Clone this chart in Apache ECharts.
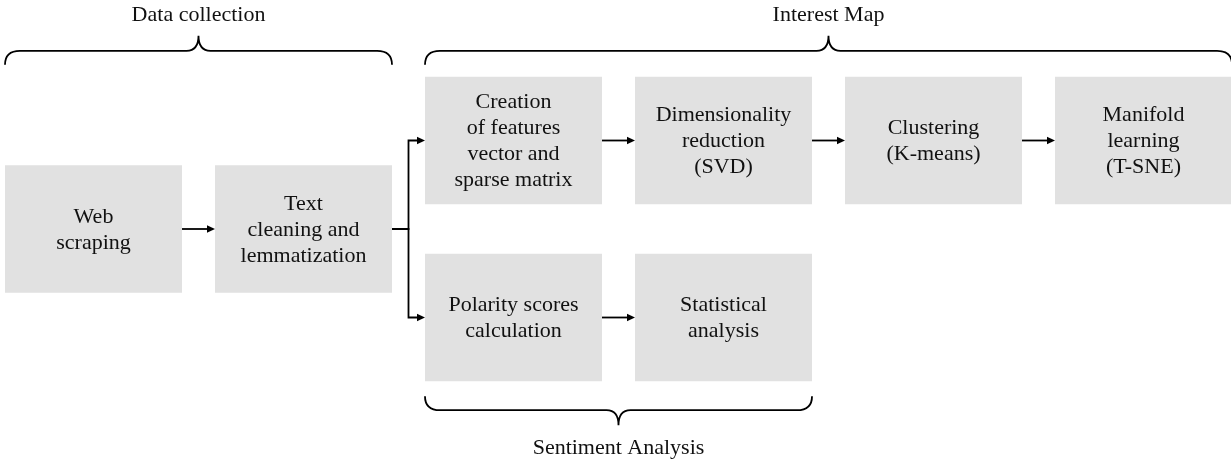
<!DOCTYPE html>
<html>
<head>
<meta charset="utf-8">
<script src="https://cdn.jsdelivr.net/npm/echarts@6/dist/echarts.min.js"></script>
<style>
  html, body { margin: 0; padding: 0; background: #fff; }
  #chart { width: 1231px; height: 461px; }
</style>
</head>
<body>
<div id="chart"></div>
<script>
// pipeline steps, placed on a column/row grid
const stepLabels = [
  'Web\nscraping',
  'Text\ncleaning and\nlemmatization',
  'Creation\nof features\nvector and\nsparse matrix',
  'Dimensionality\nreduction\n(SVD)',
  'Clustering\n(K-means)',
  'Manifold\nlearning\n(T-SNE)',
  'Polarity scores\ncalculation',
  'Statistical\nanalysis'
]
const stepCols = [0, 1, 2, 3, 4, 5, 2, 3]
const stepRows = [1, 1, 0, 0, 0, 0, 2, 2]

// arrows between steps
const linkFrom = [0, 1, 2, 3, 4, 1, 6]
const linkTo   = [1, 2, 3, 4, 5, 6, 7]

// braces grouping the steps
const groupLabels   = ['Data collection', 'Interest Map', 'Sentiment Analysis']
const groupFirstCol = [0, 2, 2]
const groupLastCol  = [1, 5, 3]
const groupSide     = ['top', 'top', 'bottom']

const BOX_W = 0.843
const BOX_H = 1.44
const FONT = '"Liberation Serif", "Times New Roman", serif'
const INK = '#000'

const chart = echarts.init(document.getElementById('chart'), null, { renderer: 'canvas' })

const stepData = stepLabels.map((l, i) => [stepCols[i], stepRows[i]])
const linkData = linkFrom.map((f, i) => [stepCols[f], stepRows[f], stepCols[linkTo[i]], stepRows[linkTo[i]]])
const groupData = groupLabels.map((l, i) => [groupFirstCol[i], groupLastCol[i]])

function renderBox(params, api) {
  const c = api.coord([api.value(0), api.value(1)])
  const s = api.size([BOX_W, BOX_H])
  return {
    type: 'group',
    children: [
      {
        type: 'rect',
        shape: { x: c[0] - s[0] / 2, y: c[1] - s[1] / 2, width: s[0], height: s[1] },
        style: { fill: '#e1e1e1' }
      },
      {
        type: 'text',
        style: {
          x: c[0], y: c[1] + 1,
          text: stepLabels[params.dataIndex],
          align: 'center', verticalAlign: 'middle',
          fontFamily: FONT, fontSize: 22, lineHeight: 26,
          fill: '#111'
        }
      }
    ]
  }
}

function renderLink(params, api) {
  const a = api.coord([api.value(0) + BOX_W / 2, api.value(1)])
  const b = api.coord([api.value(2) - BOX_W / 2, api.value(3)])
  const head = 8
  let pts
  if (Math.abs(a[1] - b[1]) < 1) {
    pts = [a, [b[0] - head + 1, b[1]]]
  } else {
    const mx = (a[0] + b[0]) / 2
    pts = [a, [mx, a[1]], [mx, b[1]], [b[0] - head + 1, b[1]]]
  }
  return {
    type: 'group',
    children: [
      { type: 'polyline', shape: { points: pts }, style: { stroke: INK, lineWidth: 1.8, fill: null } },
      {
        type: 'polygon',
        shape: { points: [[b[0], b[1]], [b[0] - head, b[1] - 3.8], [b[0] - head, b[1] + 3.8]] },
        style: { fill: INK }
      }
    ]
  }
}

function renderBrace(params, api) {
  const i = params.dataIndex
  const x1 = api.coord([api.value(0) - BOX_W / 2, 0])[0]
  const x2 = api.coord([api.value(1) + BOX_W / 2, 0])[0]
  const mid = (x1 + x2) / 2
  const top = groupSide[i] === 'top'
  let h, d, ty
  if (top) {
    h = api.coord([0, 0])[1] - api.size([0, BOX_H])[1] / 2 - 26
    d = -1
    ty = h - 36
  } else {
    h = api.coord([0, 2])[1] + api.size([0, BOX_H])[1] / 2 + 29
    d = 1
    ty = h + 38
  }
  const curl = 14, tip = 15
  const path =
    'M' + x1 + ',' + (h - d * curl) +
    ' Q' + x1 + ',' + h + ' ' + (x1 + 15) + ',' + h +
    ' L' + (mid - 12) + ',' + h +
    ' Q' + mid + ',' + h + ' ' + mid + ',' + (h + d * tip) +
    ' Q' + mid + ',' + h + ' ' + (mid + 12) + ',' + h +
    ' L' + (x2 - 15) + ',' + h +
    ' Q' + x2 + ',' + h + ' ' + x2 + ',' + (h - d * curl)
  return {
    type: 'group',
    children: [
      { type: 'path', shape: { pathData: path }, style: { stroke: INK, lineWidth: 1.8, fill: null } },
      {
        type: 'text',
        style: {
          x: mid, y: ty, text: groupLabels[i],
          align: 'center', verticalAlign: 'middle',
          fontFamily: FONT, fontSize: 22, fill: '#111'
        }
      }
    ]
  }
}

// column pitch 210px, first column centre at 93.5px; row pitch 88.5px, first row centre at 140.5px
const option = {
  animation: false,
  grid: { left: 0, right: 0, top: 0, bottom: 0, show: false },
  xAxis: { type: 'value', min: -93.5 / 210, max: (1231 - 93.5) / 210, show: false },
  yAxis: { type: 'value', min: -140.5 / 88.5, max: (461 - 140.5) / 88.5, inverse: true, show: false },
  series: [
    { type: 'custom', name: 'steps', data: stepData, renderItem: renderBox, clip: false, silent: true },
    { type: 'custom', name: 'links', data: linkData, renderItem: renderLink, clip: false, silent: true,
      encode: { x: [0, 2], y: [1, 3] } },
    { type: 'custom', name: 'groups', data: groupData, renderItem: renderBrace, clip: false, silent: true,
      encode: { x: [0, 1] } }
  ]
}

chart.setOption(option)
</script>
</body>
</html>
